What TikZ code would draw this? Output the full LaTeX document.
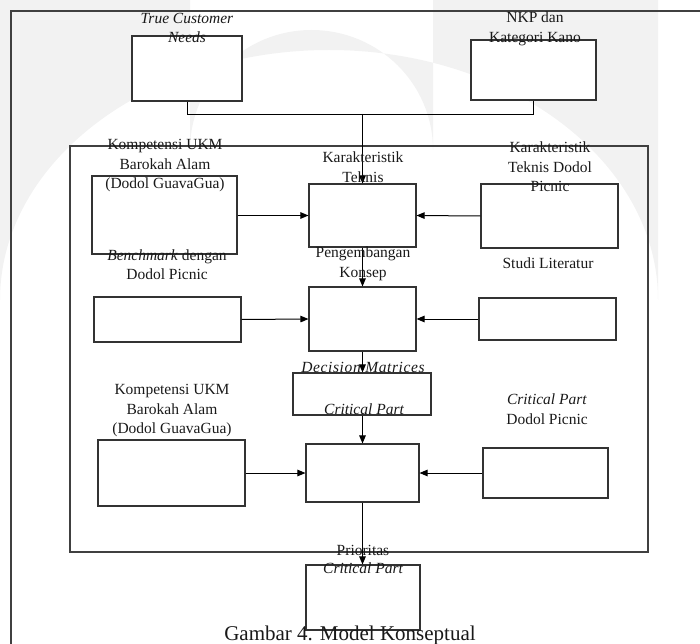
\documentclass[tikz,border=0pt]{standalone}
\usepackage{fontspec}
\setmainfont{Liberation Serif}
\usetikzlibrary{arrows.meta}
\begin{document}
\begin{tikzpicture}[x=1bp,y=-1bp,
  box/.style={draw=black!80, line width=1.05bp, fill=white, inner sep=0pt, rectangle},
  lbl/.style={align=center, inner sep=0pt, text=black!90, font=\fontsize{15.5bp}{19.5bp}\selectfont},
  frame/.style={draw=black!75, line width=1.2bp},
  conn/.style={draw=black, line width=1bp},
  arr/.style={conn, -{Triangle[length=8bp,width=6.5bp]}},
]
\useasboundingbox (0,0) rectangle (700,644);
% faint watermark
\fill[black!5, even odd rule]
  (0,0) -- (0,300) arc[start angle=180, end angle=360, x radius=329, y radius=250] -- (658,0) -- cycle
  (190,0) -- (190,150) arc[start angle=180, end angle=360, x radius=121.5, y radius=120] -- (433,0) -- cycle;
% frames
\draw[frame] (11,644) -- (11,11) -- (700,11);
\draw[frame] (70,146) rectangle (648,552);
% boxes
\node[box, minimum width=110bp, minimum height=65bp] (tcn) at (187,68.5) {};
\node[box, minimum width=125bp, minimum height=60bp] (nkp) at (533.5,70) {};
\node[box, minimum width=145bp, minimum height=78bp] (komp1) at (164.5,215) {};
\node[box, minimum width=107bp, minimum height=63bp] (kt) at (362.5,215.5) {};
\node[box, minimum width=137bp, minimum height=64bp] (ktdp) at (549.5,216) {};
\node[box, minimum width=147bp, minimum height=45bp] (bm) at (167.5,319.5) {};
\node[box, minimum width=107bp, minimum height=64bp] (konsep) at (362.5,319) {};
\node[box, minimum width=137bp, minimum height=42bp] (studi) at (547.5,319) {};
\node[box, minimum width=138bp, minimum height=42bp] (cp) at (362,394) {};
\node[box, minimum width=147bp, minimum height=66bp] (komp2) at (171.5,473) {};
\node[box, minimum width=113bp, minimum height=58bp] (final) at (362.5,473) {};
\node[box, minimum width=125bp, minimum height=50bp] (cpdp) at (545.5,473) {};
\node[box, minimum width=114bp, minimum height=65bp] (prio) at (363,597.5) {};
% connectors
\coordinate (j) at (362.5,114);
\draw[conn] (tcn.south) -- ++(0,13) -| (nkp.south);
\draw[arr] (j) -- (kt.north);
\draw[arr] (komp1.east |- kt.west) -- (kt.west);
\draw[arr] (ktdp.west) -- (kt.east);
\draw[arr] (kt.south) -- (konsep.north);
\draw[arr] (bm.east) -- (konsep.west);
\draw[arr] (studi.west) -- (konsep.east);
\draw[arr] (konsep.south) -- (cp.north -| konsep.south);
\draw[arr] (cp.south -| final.north) -- (final.north);
\draw[arr] (komp2.east) -- (final.west);
\draw[arr] (cpdp.west) -- (final.east);
\draw[arr] (final.south) -- (prio.north -| final.south);
% labels
\node[lbl] (l-tcn) at (187,28) {\itshape True Customer\\\itshape Needs};
\node[lbl] (l-nkp) at (535,29) {NKP dan\\Kategori Kano};
\node[lbl] (l-komp1) at (165,166) {Kompetensi UKM\\Barokah Alam\\(Dodol GuavaGua)};
\node[lbl] (l-kt) at (363,167) {Karakteristik\\Teknis};
\node[lbl] (l-ktdp) at (550,167) {Karakteristik\\Teknis Dodol\\Picnic};
\node[lbl] (l-bm) at (167,264.5) {\emph{Benchmark} dengan\\Dodol Picnic};
\node[lbl] (l-konsep) at (363,264) {Pengembangan\\Konsep};
\node[lbl] (l-studi) at (548,263) {Studi Literatur};
\node[lbl] (l-dm) at (363,367) {\itshape\addfontfeature{LetterSpace=4}Decision Matrices};
\node[lbl] (l-cp) at (364,409) {\itshape Critical Part};
\node[lbl] (l-komp2) at (172,411) {Kompetensi UKM\\Barokah Alam\\(Dodol GuavaGua)};
\node[lbl] (l-cpdp) at (547,409) {\emph{Critical Part}\\Dodol Picnic};
\node[lbl, font=\fontsize{15.5bp}{18bp}\selectfont] (l-prio) at (363,559) {Prioritas\\\itshape Critical Part};
\node[lbl, anchor=base, font=\fontsize{21bp}{24bp}\selectfont] (caption) at (350,640) {Gambar 4. Model Konseptual};
\end{tikzpicture}
\end{document}
